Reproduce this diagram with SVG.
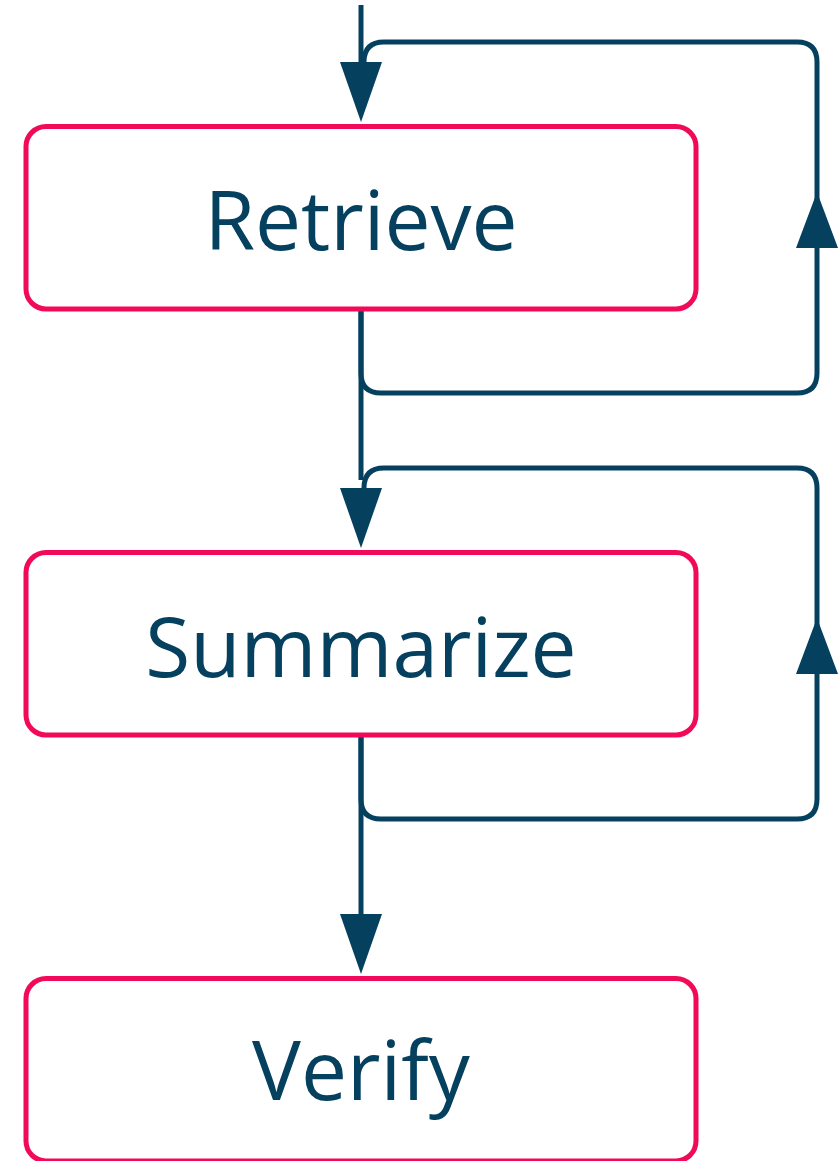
<svg xmlns="http://www.w3.org/2000/svg" width="838" height="1161" viewBox="0 0 838 1161">
<style>
.node{fill:#fff;stroke:#f20a5a;stroke-width:5}
.lbl{font-family:"Open Sans","Noto Sans",sans-serif;font-size:82px;fill:#05405f;text-anchor:middle}
.edge{fill:none;stroke:#05405f;stroke-width:5}
.head{fill:#05405f}
</style>
<rect width="838" height="1161" fill="#fff"/>
<g id="connectors">
<path class="edge" d="M361 5 V70"/>
<polygon class="head" points="340,62 382,62 361,122"/>
<path class="edge" d="M361 309 V480"/>
<polygon class="head" points="340,488 382,488 361,548"/>
<path class="edge" d="M361 736 V920"/>
<polygon class="head" points="340,914 382,914 361,974"/>
<path class="edge" d="M361 309 V373 Q361 393 381 393 H797 Q817 393 817 373 V62 Q817 42 797 42 H384 Q364 42 364 62 V70"/>
<polygon class="head" points="796,248 838,248 817,192"/>
<path class="edge" d="M361 736 V799 Q361 819 381 819 H797 Q817 819 817 799 V488 Q817 468 797 468 H384 Q364 468 364 488 V496"/>
<polygon class="head" points="796,674 838,674 817,618"/>
</g>
<g id="retrieve">
<rect class="node" x="26" y="126.5" width="670" height="182.5" rx="20"/>
<text class="lbl" x="361" y="250">Retrieve</text>
</g>
<g id="summarize">
<rect class="node" x="26" y="552.5" width="670" height="182.5" rx="20"/>
<text class="lbl" x="361" y="677">Summarize</text>
</g>
<g id="verify">
<rect class="node" x="26" y="978.5" width="670" height="182.5" rx="20"/>
<text class="lbl" x="361" y="1100">Verify</text>
</g>
</svg>
